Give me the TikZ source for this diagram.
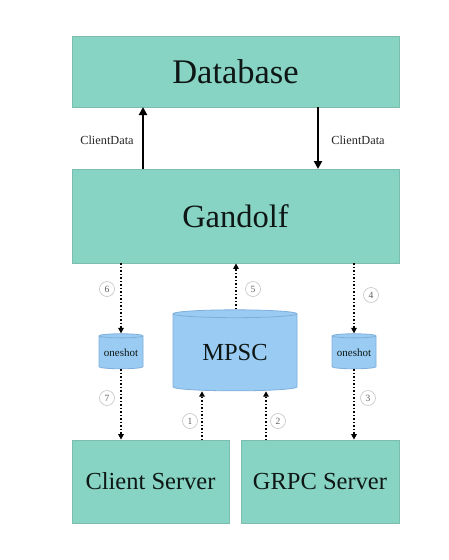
\documentclass[tikz,border=0pt]{standalone}
\usepackage{fontspec}
\setmainfont{Liberation Serif}
\usetikzlibrary{shapes.geometric,arrows.meta}
\definecolor{teal}{HTML}{88D4C4}
\definecolor{tealborder}{HTML}{7DBDAE}
\definecolor{chan}{HTML}{9ACCF3}
\definecolor{chanborder}{HTML}{7FAEDB}
\definecolor{txt}{HTML}{0E1715}
\tikzset{
  box/.style={draw=tealborder, fill=teal, line width=0.8pt, inner sep=0pt, text=txt},
  chanbox/.style={draw=chanborder, fill=chan, line width=0.8pt, cylinder, shape border rotate=90, aspect=0.12, inner sep=0pt, text=txt},
  solidarrow/.style={-{Triangle[length=8pt,width=8pt]}, line width=2pt, black},
  dotarrow/.style={-{Triangle[length=5.5pt,width=5.5pt]}, line width=1.5pt, dotted, black},
  numcirc/.style={circle, draw=gray!45, line width=0.6pt, minimum size=15pt, inner sep=0pt, font=\fontsize{9.5}{9.5}\selectfont, text=gray!75!black},
  lbl/.style={font=\fontsize{12.3}{13}\selectfont, text=black!85},
}
\begin{document}
\begin{tikzpicture}[x=1pt,y=-1pt]
\useasboundingbox (0,0) rectangle (449,560);
\fill[white] (0,0) rectangle (449,560);
% boxes
\node[box, minimum width=327pt, minimum height=71pt, font=\fontsize{34.5}{34.5}\selectfont] (db) at (235.5,71.5) {Database};
\node[box, minimum width=327pt, minimum height=94pt, font=\fontsize{32.5}{32.5}\selectfont] (gd) at (235.5,216) {Gandolf};
\node[box, minimum width=157pt, minimum height=83pt, font=\fontsize{24.5}{24.5}\selectfont] (cs) at (150.5,481.5) {Client Server};
\node[box, minimum width=158pt, minimum height=83pt, font=\fontsize{24.5}{24.5}\selectfont] (gs) at (320,481.5) {GRPC Server};
% channels
\node[chanbox, minimum width=124pt, minimum height=81pt, font=\fontsize{24.5}{24.5}\selectfont] (mpsc) at (235,352.5) {MPSC};
\node[chanbox, minimum width=44pt, minimum height=35pt, font=\fontsize{11}{12}\selectfont] (os1) at (121,352.5) {oneshot};
\node[chanbox, minimum width=44pt, minimum height=35pt, font=\fontsize{11}{12}\selectfont] (os2) at (354,352.5) {oneshot};
% solid arrows
\coordinate (a1s) at (143,169);
\coordinate (a1e) at (143,107);
\coordinate (a2s) at (318,107);
\coordinate (a2e) at (318,169);
\draw[solidarrow] (a1s) -- (a1e);
\draw[solidarrow] (a2s) -- (a2e);
\node[lbl] (l1) at (107,140) {ClientData};
\node[lbl] (l2) at (358,140) {ClientData};
% dotted arrows
\draw[dotarrow] (gd.south -| os1.north) -- (os1.north);
\draw[dotarrow] (os1.south) -- (os1.south |- cs.north);
\draw[dotarrow] (gd.south -| os2.north) -- (os2.north);
\draw[dotarrow] (os2.south) -- (os2.south |- gs.north);
\draw[dotarrow] ([xshift=1pt]mpsc.north) -- ([xshift=1pt]mpsc.north |- gd.south);
\coordinate (p1) at (202,440);
\coordinate (p2) at (266,440);
\draw[dotarrow] (p1) -- (p1 |- mpsc.south);
\draw[dotarrow] (p2) -- (p2 |- mpsc.south);
% numbers
\node[numcirc] (n6) at (107,289) {6};
\node[numcirc] (n5) at (253,289) {5};
\node[numcirc] (n4) at (371,295) {4};
\node[numcirc] (n7) at (107,398) {7};
\node[numcirc] (n3) at (368,398) {3};
\node[numcirc] (n1) at (190,421) {1};
\node[numcirc] (n2) at (278,421) {2};
\end{tikzpicture}
\end{document}
